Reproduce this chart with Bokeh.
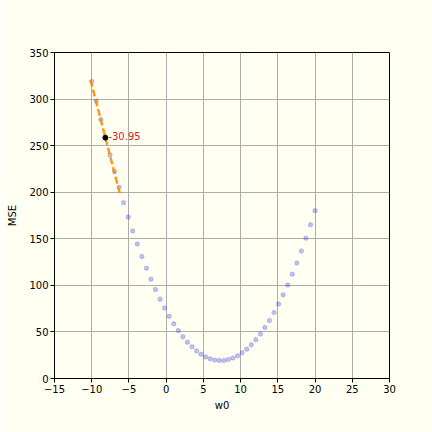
from bokeh.plotting import figure
from bokeh.models import FixedTicker, Range1d
from bokeh.core.properties import value
from bokeh.embed import file_html
from bokeh.resources import INLINE

# data
w0_vals = [-10.0, -9.388, -8.776, -8.163, -7.551, -6.939, -6.327, -5.714, -5.102, -4.490,
           -3.878, -3.265, -2.653, -2.041, -1.429, -0.816, -0.204, 0.408, 1.020, 1.633,
           2.245, 2.857, 3.469, 4.082, 4.694, 5.306, 5.918, 6.531, 7.143, 7.755,
           8.367, 8.980, 9.592, 10.204, 10.816, 11.429, 12.041, 12.653, 13.265, 13.878,
           14.490, 15.102, 15.714, 16.327, 16.939, 17.551, 18.163, 18.776, 19.388, 20.0]
mse_vals = [318.8, 298.0, 278.0, 258.6, 240.0, 222.2, 205.2, 188.8, 173.3, 158.4,
            144.4, 131.0, 118.5, 106.6, 95.6, 85.2, 75.7, 66.8, 58.8, 51.4,
            44.9, 39.0, 34.0, 29.6, 26.0, 23.2, 21.1, 19.8, 19.2, 19.4,
            20.3, 22.0, 24.4, 27.6, 31.5, 36.2, 41.6, 47.7, 54.7, 62.3,
            70.8, 79.9, 89.8, 100.5, 111.9, 124.1, 137.0, 150.7, 165.1, 180.2]
current_w0 = -8.163
current_mse = 258.6
slope = -30.95
half_span = 2.0
slope_label = "-30.95"

x_ticks = [-15, -10, -5, 0, 5, 10, 15, 20, 25, 30]
y_ticks = [0, 50, 100, 150, 200, 250, 300, 350]

FONT = "DejaVu Sans"
BG = "#fffff2"

p = figure(width=432, height=432, output_backend="svg", toolbar_location=None,
           x_range=Range1d(-15, 30), y_range=Range1d(0, 350),
           min_border_left=54, min_border_right=43, min_border_top=52, min_border_bottom=54)
p.background_fill_color = BG
p.border_fill_color = BG
p.outline_line_color = "black"
p.outline_line_width = 1

p.grid.grid_line_color = "#adadad"
p.grid.grid_line_width = 1

p.xaxis.ticker = FixedTicker(ticks=x_ticks)
p.yaxis.ticker = FixedTicker(ticks=y_ticks)
p.xaxis.major_label_overrides = {t: (str(t).replace("-", "\u2212")) for t in x_ticks}
for ax in (p.xaxis, p.yaxis):
    ax.axis_line_color = "black"
    ax.major_tick_line_color = "black"
    ax.major_tick_out = 4
    ax.major_tick_in = 0
    ax.minor_tick_line_color = None
    ax.major_label_text_font = FONT
    ax.major_label_text_font_size = "10px"
    ax.major_label_text_color = "black"
    ax.axis_label_text_font = FONT
    ax.axis_label_text_font_size = "10px"
    ax.axis_label_text_font_style = "normal"
    ax.axis_label_text_color = "black"
    ax.major_label_standoff = 2
p.xaxis.axis_label = "w0"
p.yaxis.axis_label = "MSE"
p.xaxis.axis_label_standoff = 4
p.yaxis.axis_label_standoff = 8

p.scatter(w0_vals, mse_vals, size=4.5, marker="circle", fill_color="#3030e0",
          fill_alpha=0.3, line_color="#3030e0", line_alpha=0.2)

tx = [current_w0 - half_span, current_w0 + half_span]
ty = [current_mse + slope * (x - current_w0) for x in tx]
p.line(tx, ty, line_color="#ff8c00", line_width=2.5, line_dash="7 3", line_alpha=0.9)

p.scatter([current_w0], [current_mse], size=5, marker="circle", fill_color="black",
          line_color="black")
p.text([current_w0], [current_mse], text=[slope_label], text_color="#dd1c1c",
       text_font=value(FONT), text_font_size="10px", text_baseline="alphabetic",
       text_align="left", x_offset=3, y_offset=-2)

open("out.html", "w").write(file_html(p, INLINE))
